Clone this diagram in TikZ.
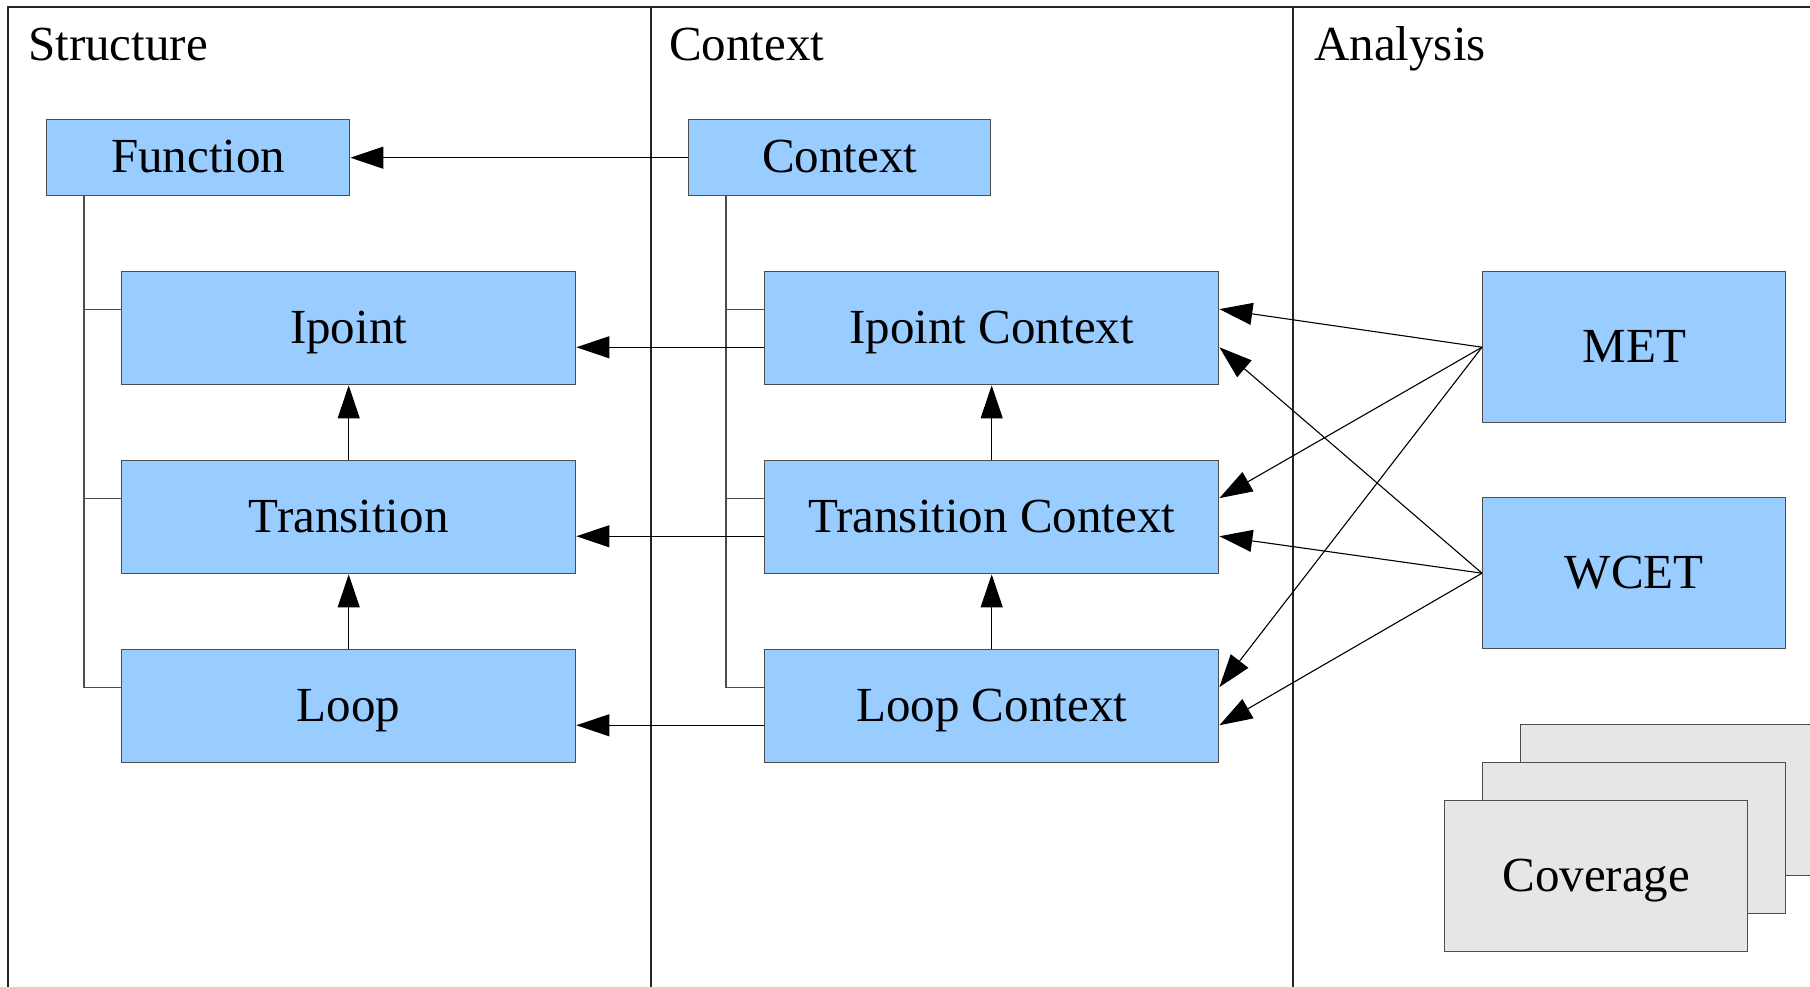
\documentclass[tikz,border=0pt]{standalone}
\usepackage{fontspec}
\setmainfont{Liberation Serif}
\usetikzlibrary{arrows.meta,calc}
\definecolor{boxfill}{HTML}{99CCFF}
\definecolor{boxline}{HTML}{4D4D4D}
\definecolor{grayfill}{HTML}{E6E6E6}
\begin{document}
\begin{tikzpicture}[x=1pt,y=-1pt,
  txt/.style={font=\fontsize{49}{58}\selectfont},
  box/.style={txt, draw=boxline, fill=boxfill, line width=1.4pt, anchor=north west, inner sep=0pt, text height=40pt, text depth=10pt},
  graybox/.style={box, fill=grayfill},
  title/.style={txt, anchor=base west, inner sep=0pt},
  frame/.style={line width=1.4pt, draw=black!85},
  tree/.style={line width=1.2pt, draw=black!70},
  arr/.style={line width=1.1pt, -{Triangle[length=33pt,width=22pt]}}]
\useasboundingbox (0,0) rectangle (1810,987);
% frame
\coordinate (fbl) at (8,995);
\coordinate (ftr) at (1820,7);
\coordinate (s1t) at (651,7);
\coordinate (s1b) at (651,995);
\coordinate (s2t) at (1293,7);
\coordinate (s2b) at (1293,995);
\draw[frame] (fbl) |- (ftr);
\draw[frame] (s1t) -- (s1b);
\draw[frame] (s2t) -- (s2b);
% titles
\node[title] (tS) at (28,61) {Structure};
\node[title] (tC) at (669,61) {Context};
\node[title] (tA) at (1314,61) {Analysis};
% structure
\node[box, minimum width=303pt, minimum height=76pt] (func) at (46,119) {Function};
\node[box, minimum width=454pt, minimum height=113pt] (ip) at (121,271) {Ipoint};
\node[box, minimum width=454pt, minimum height=113pt] (tr) at (121,460) {Transition};
\node[box, minimum width=454pt, minimum height=113pt] (lp) at (121,649) {Loop};
% context
\node[box, minimum width=302pt, minimum height=76pt] (ctx) at (688,119) {Context};
\node[box, minimum width=454pt, minimum height=113pt] (ipc) at (764,271) {Ipoint Context};
\node[box, minimum width=454pt, minimum height=113pt] (trc) at (764,460) {Transition Context};
\node[box, minimum width=454pt, minimum height=113pt] (lpc) at (764,649) {Loop Context};
% analysis
\node[box, minimum width=303pt, minimum height=151pt] (met) at (1482,271) {MET};
\node[box, minimum width=303pt, minimum height=151pt] (wcet) at (1482,497) {WCET};
\node[graybox, minimum width=330pt, minimum height=151pt] (cov3) at (1520,724) {};
\node[graybox, minimum width=303pt, minimum height=151pt] (cov2) at (1482,762) {};
\node[graybox, minimum width=303pt, minimum height=151pt] (cov1) at (1444,800) {Coverage};
% trees
\coordinate (fstem) at ($(func.south west)+(38pt,0)$);
\coordinate (cstem) at ($(ctx.south west)+(38pt,0)$);
\foreach \n in {ip,tr,lp}{
  \draw[tree] ($(\n.north west)!1/3!(\n.south west)$) -| (fstem);
}
\foreach \n in {ipc,trc,lpc}{
  \draw[tree] ($(\n.north west)!1/3!(\n.south west)$) -| (cstem);
}
% horizontal arrows
\draw[arr] (ctx.west) -- (func.east);
\draw[arr] ($(ipc.north west)!2/3!(ipc.south west)$) -- ($(ip.north east)!2/3!(ip.south east)$);
\draw[arr] ($(trc.north west)!2/3!(trc.south west)$) -- ($(tr.north east)!2/3!(tr.south east)$);
\draw[arr] ($(lpc.north west)!2/3!(lpc.south west)$) -- ($(lp.north east)!2/3!(lp.south east)$);
% vertical arrows
\draw[arr] (tr.north) -- (ip.south);
\draw[arr] (lp.north) -- (tr.south);
\draw[arr] (trc.north) -- (ipc.south);
\draw[arr] (lpc.north) -- (trc.south);
% analysis arrows
\foreach \n in {ipc,trc,lpc}{
  \draw[arr] (met.west) -- ($(\n.north east)!1/3!(\n.south east)$);
  \draw[arr] (wcet.west) -- ($(\n.north east)!2/3!(\n.south east)$);
}
\end{tikzpicture}
\end{document}
